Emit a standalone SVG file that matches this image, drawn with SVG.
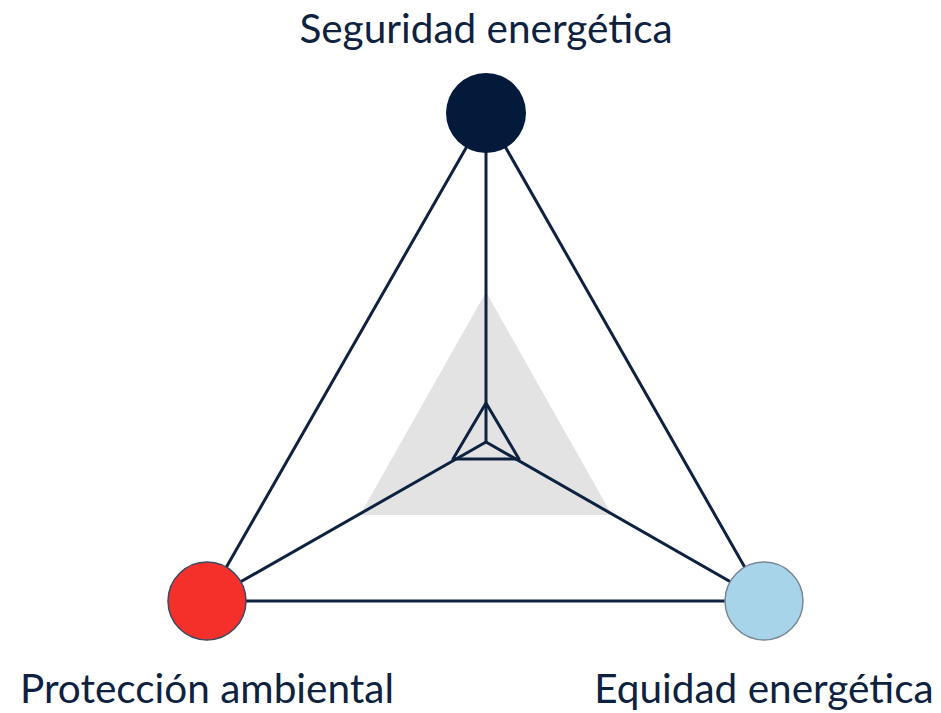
<svg xmlns="http://www.w3.org/2000/svg" width="941" height="713" viewBox="0 0 941 713">
<style>
.l{stroke:#0e2240;stroke-width:3;fill:none;stroke-linejoin:round;stroke-linecap:round}
.t{font-family:Lato,"Open Sans",sans-serif;font-size:40.5px;fill:#0e2240;text-anchor:middle}
</style>
<rect width="941" height="713" fill="#fff"/>
<polygon points="486,292 360,515 612,515" fill="#e3e3e3"/>
<g id="connectors">
<line class="l" x1="486" y1="113" x2="207" y2="601"/>
<line class="l" x1="486" y1="113" x2="764" y2="601"/>
<line class="l" x1="207" y1="601" x2="764" y2="601"/>
<line class="l" x1="486" y1="113" x2="486" y2="442"/>
<line class="l" x1="207" y1="601" x2="486" y2="442"/>
<line class="l" x1="764" y1="601" x2="486" y2="442"/>
<polygon class="l" points="486,403 453,459 519,459"/>
</g>
<g id="seguridad">
<circle cx="486" cy="113" r="40" fill="#041a3a"/>
<text class="t" x="486" y="43">Seguridad energética</text>
</g>
<g id="proteccion">
<circle cx="207" cy="601" r="39" fill="#f5302a" stroke="#3a4a60" stroke-width="1.5"/>
<text class="t" x="207" y="703">Protección ambiental</text>
</g>
<g id="equidad">
<circle cx="764" cy="601" r="39" fill="#a8d4ea" stroke="#7a8796" stroke-width="1.5"/>
<text class="t" x="764" y="703">Equidad energética</text>
</g>
</svg>
